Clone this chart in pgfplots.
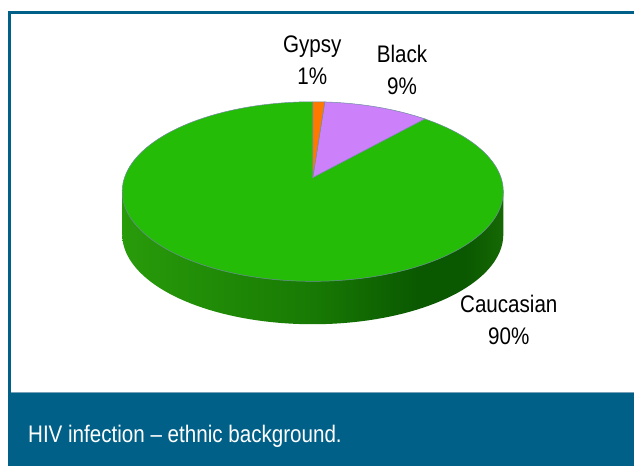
\documentclass[border=0pt]{standalone}
\usepackage{fontspec}
\setmainfont{Liberation Sans}[FakeStretch=0.86]
\usepackage{pgfplots}
\usepackage{pgfplotstable}
\pgfplotsset{compat=1.18}
\definecolor{frameblue}{RGB}{0,96,135}
\definecolor{framelight}{RGB}{120,160,185}
\definecolor{topgreen}{RGB}{36,188,6}
\definecolor{blackc}{RGB}{204,128,250}
\definecolor{gypsyc}{RGB}{255,120,0}
\definecolor{edgec}{RGB}{110,140,160}
\definecolor{sideA}{RGB}{40,155,10}
\definecolor{sideB}{RGB}{24,122,4}
\definecolor{sideC}{RGB}{10,88,0}
\definecolor{sideD}{RGB}{22,104,4}
\pgfdeclarehorizontalshading{sideshade}{100bp}{%
  color(0bp)=(sideA); color(25bp)=(sideA); color(50bp)=(sideB);
  color(64bp)=(sideC); color(70bp)=(sideC); color(75bp)=(sideD); color(100bp)=(sideD)}
\pgfplotstableread{
label value
Gypsy 1
Black 9
Caucasian 90
}\piedata
\pgfplotstablegetelem{0}{value}\of\piedata \let\vA\pgfplotsretval
\pgfplotstablegetelem{1}{value}\of\piedata \let\vB\pgfplotsretval
\pgfplotstablegetelem{2}{value}\of\piedata \let\vC\pgfplotsretval
\pgfmathsetmacro\aS{90}
\pgfmathsetmacro\aA{90-3.6*\vA}
\pgfmathsetmacro\aB{\aA-3.6*\vB}
\pgfmathsetmacro\aC{\aB-3.6*\vC}
\def\cx{313.5}\def\cy{192}\def\rx{191}\def\ry{90}\def\dep{43}
\def\ax{313.5}\def\ay{178}
\begin{document}%
\begin{tikzpicture}
\begin{axis}[hide axis, scale only axis, width=635bp, height=467bp,
  xmin=0, xmax=635, ymin=0, ymax=467, y dir=reverse, clip=false]
\fill[white] (axis cs:0,0) rectangle (axis cs:635,467);
% caption band
\fill[frameblue] (axis cs:8,393) rectangle (axis cs:635,467);
\draw[framelight, line width=0.8bp] (axis cs:11.5,393.3) -- (axis cs:635,393.3);
% frame
\draw[frameblue, line width=3bp] (axis cs:10,467) -- (axis cs:10,12.3) -- (axis cs:635,12.3);
% side of the pie
\addplot[draw=none, shading=sideshade, domain=180:360, samples=80, variable=\t]
  ({\cx+\rx*cos(t)},{\cy+\dep-\ry*sin(t)}) -- (axis cs:{\cx+\rx},\cy) -- (axis cs:{\cx-\rx},\cy) -- cycle;
% top wedges
\addplot[fill=topgreen, draw=edgec, line width=0.5bp, domain=\aC:\aB, samples=150, variable=\t]
  ({\cx+\rx*cos(t)},{\cy-\ry*sin(t)}) -- (axis cs:\ax,\ay) -- cycle;
\addplot[fill=blackc, draw=edgec, line width=0.5bp, domain=\aB:\aA, samples=30, variable=\t]
  ({\cx+\rx*cos(t)},{\cy-\ry*sin(t)}) -- (axis cs:\ax,\ay) -- cycle;
\addplot[fill=gypsyc, draw=edgec, line width=0.5bp, domain=\aA:\aS, samples=8, variable=\t]
  ({\cx+\rx*cos(t)},{\cy-\ry*sin(t)}) -- (axis cs:\ax,\ay) -- cycle;
% labels
\node[anchor=base, font=\fontsize{24bp}{28bp}\selectfont] at (axis cs:313,53) {Gypsy};
\node[anchor=base, font=\fontsize{24bp}{28bp}\selectfont] at (axis cs:313,85) {1\%};
\node[anchor=base, font=\fontsize{24bp}{28bp}\selectfont] at (axis cs:403,63) {Black};
\node[anchor=base, font=\fontsize{24bp}{28bp}\selectfont] at (axis cs:403,95) {9\%};
\node[anchor=base, font=\fontsize{24bp}{28bp}\selectfont] at (axis cs:510,313) {Caucasian};
\node[anchor=base, font=\fontsize{24bp}{28bp}\selectfont] at (axis cs:510,345) {90\%};
\node[anchor=base west, inner sep=0pt, text=white, font=\fontsize{24bp}{28bp}\selectfont] at (axis cs:28,444) {HIV infection – ethnic background.};
\end{axis}
\end{tikzpicture}%
\end{document}
